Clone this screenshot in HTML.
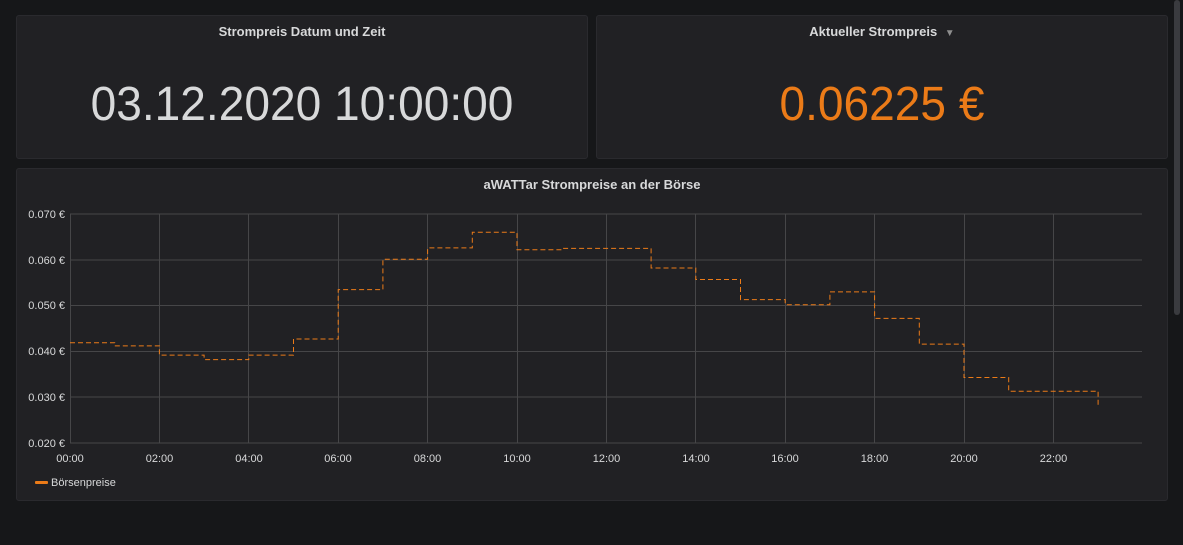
<!DOCTYPE html>
<html><head><meta charset="utf-8"><style>
html,body{margin:0;padding:0;width:1183px;height:545px;background:#161719;overflow:hidden;font-family:"Liberation Sans",sans-serif}
.p{position:absolute;background:#212124;border:1px solid #2a2a2e;border-radius:3px}
.t{position:absolute;left:0;right:0;text-align:center;color:#d8d9da;font-size:13px;font-weight:bold}
.big{position:absolute;left:0;right:0;text-align:center;font-size:48px;transform:scaleX(0.96)}
</style></head><body>
<div class="p" style="left:16px;top:15px;width:570px;height:142px">
 <div class="t" style="top:8px">Strompreis Datum und Zeit</div>
 <div class="big" style="top:61px;color:#d8d9da">03.12.2020 10:00:00</div>
</div>
<div class="p" style="left:596px;top:15px;width:570px;height:142px">
 <div class="t" style="top:8px">Aktueller Strompreis <span style="color:#8e8e8e;font-size:10px;margin-left:4px">▼</span></div>
 <div class="big" style="top:61px;color:#eb7b18">0.06225 €</div>
</div>
<div class="p" style="left:16px;top:168px;width:1150px;height:331px">
 <div class="t" style="top:8px">aWATTar Strompreise an der Börse</div>
</div>
<div style="position:absolute;left:1174px;top:0;width:6px;height:315px;background:#3a3b3f;border-radius:3px"></div>
<svg width="1183" height="545" style="position:absolute;left:0;top:0">
<g stroke="#464648" stroke-width="1">
<line x1="70" y1="214" x2="1142" y2="214"/><line x1="70" y1="260" x2="1142" y2="260"/><line x1="70" y1="305.5" x2="1142" y2="305.5"/><line x1="70" y1="351.5" x2="1142" y2="351.5"/><line x1="70" y1="397" x2="1142" y2="397"/><line x1="70" y1="443" x2="1142" y2="443"/>
<line x1="70.5" y1="214" x2="70.5" y2="443"/><line x1="159.5" y1="214" x2="159.5" y2="443"/><line x1="248.5" y1="214" x2="248.5" y2="443"/><line x1="338.5" y1="214" x2="338.5" y2="443"/><line x1="427.5" y1="214" x2="427.5" y2="443"/><line x1="517.5" y1="214" x2="517.5" y2="443"/><line x1="606.5" y1="214" x2="606.5" y2="443"/><line x1="695.5" y1="214" x2="695.5" y2="443"/><line x1="785.5" y1="214" x2="785.5" y2="443"/><line x1="874.5" y1="214" x2="874.5" y2="443"/><line x1="964.5" y1="214" x2="964.5" y2="443"/><line x1="1053.5" y1="214" x2="1053.5" y2="443"/>
</g>
<g fill="#d8d9da" font-size="11" font-family="Liberation Sans, sans-serif">
<text x="65" y="218" text-anchor="end">0.070 €</text><text x="65" y="264" text-anchor="end">0.060 €</text><text x="65" y="309" text-anchor="end">0.050 €</text><text x="65" y="355" text-anchor="end">0.040 €</text><text x="65" y="401" text-anchor="end">0.030 €</text><text x="65" y="447" text-anchor="end">0.020 €</text>
<g text-anchor="middle"><text x="70" y="462">00:00</text><text x="159.5" y="462">02:00</text><text x="249" y="462">04:00</text><text x="338" y="462">06:00</text><text x="427.5" y="462">08:00</text><text x="517" y="462">10:00</text><text x="606.5" y="462">12:00</text><text x="696" y="462">14:00</text><text x="785" y="462">16:00</text><text x="874.5" y="462">18:00</text><text x="964" y="462">20:00</text><text x="1053.5" y="462">22:00</text></g>
<text x="51" y="486">Börsenpreise</text>
</g>
<rect x="35" y="481" width="13" height="3" fill="#eb7b18" rx="1"/>
<path fill="none" stroke="#eb7b18" stroke-width="1" stroke-dasharray="5,3" d="M70 342.7H114.7V345.9H159.4V355.1H204.1V359.6H248.8V355.1H293.5V339H338.2V289.6H382.9V259.3H427.6V247.9H472.3V232.3H517V249.7H561.7V248.4H606.4V248.4H651.1V252H651.1V268H695.8V279.5H740.5V299.6H785.2V304.7H829.9V291.9H874.6V318.4H919.3V344.1H964V377.5H1008.7V391.2H1098.1V407"/>
</svg>
</body></html>
